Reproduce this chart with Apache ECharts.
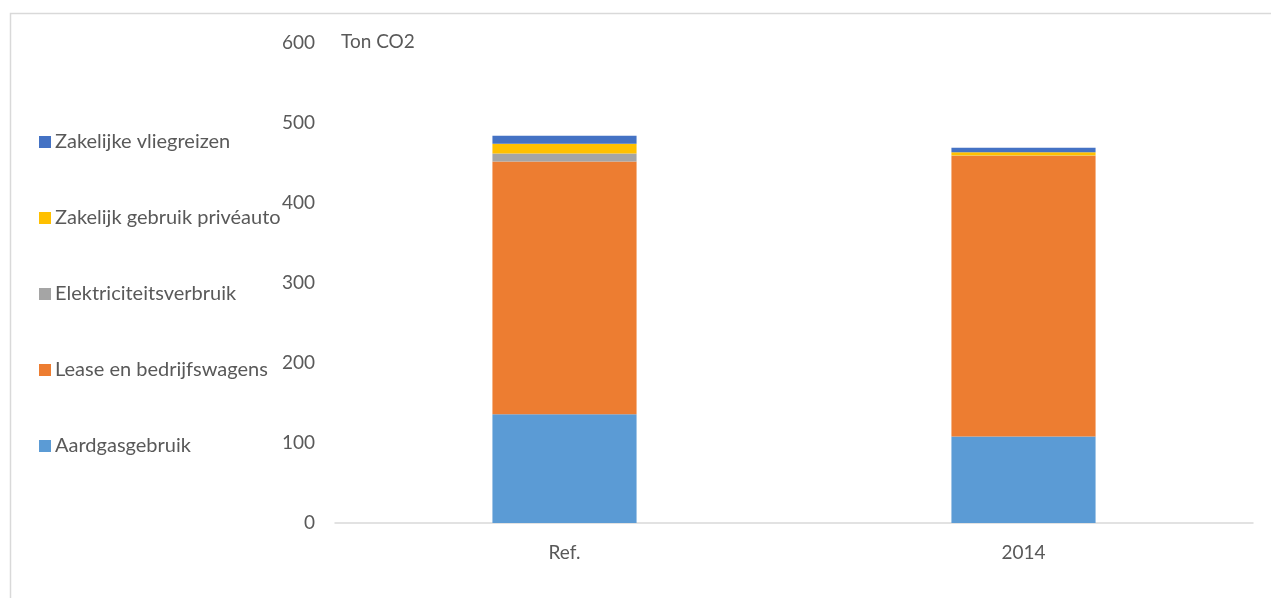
<!DOCTYPE html>
<html>
<head>
<meta charset="utf-8">
<script src="https://cdn.jsdelivr.net/npm/echarts@6/dist/echarts.min.js"></script>
<style>html,body{margin:0;padding:0;background:#fff;}#c{width:1271px;height:598px;}</style>
</head>
<body>
<div id="c"></div>
<script>
const categories = ['Ref.', '2014'];
const aardgasgebruik = [136, 108];
const leaseEnBedrijfswagens = [316, 351];
const elektriciteitsverbruik = [10, 0.5];
const zakelijkGebruikPriveauto = [12, 4];
const zakelijkeVliegreizen = [10, 5.5];
const yTicks = [0, 100, 200, 300, 400, 500, 600];

const FONT = 'Lato';
const chart = echarts.init(document.getElementById('c'), null, {renderer: 'canvas'});
const mk = (name, data, color) => ({
  name, type: 'bar', stack: 'total', data, barWidth: '31.4%',
  itemStyle: {color}, emphasis: {disabled: true}
});
chart.setOption({
  animation: false,
  textStyle: {fontFamily: FONT},
  graphic: [{
    type: 'rect', silent: true,
    shape: {x: 10.5, y: 13.5, width: 1300, height: 700},
    style: {fill: 'none', stroke: '#d9d9d9', lineWidth: 1.5}
  }],
  title: {
    text: 'Ton CO2', left: 336, top: 27,
    textStyle: {fontFamily: FONT, fontSize: 19, fontWeight: 'normal', color: '#595959'}
  },
  legend: {
    orient: 'vertical', left: 34, top: 126,
    data: ['Zakelijke vliegreizen', 'Zakelijk gebruik privéauto', 'Elektriciteitsverbruik', 'Lease en bedrijfswagens', 'Aardgasgebruik'],
    icon: 'rect', itemWidth: 12, itemHeight: 12, itemGap: 54,
    textStyle: {fontFamily: FONT, fontSize: 20, color: '#595959', lineHeight: 22, padding: [0, 0, 0, -1]},
    selectedMode: false
  },
  grid: {left: 335, right: 18, top: 43, bottom: 75, containLabel: false},
  xAxis: {
    type: 'category', data: categories,
    axisLine: {lineStyle: {color: '#d9d9d9', width: 1.5}},
    axisTick: {show: false},
    axisLabel: {color: '#595959', fontSize: 19, margin: 20, fontFamily: FONT}
  },
  yAxis: {
    type: 'value', min: yTicks[0], max: yTicks[yTicks.length - 1], interval: 100,
    axisLine: {show: false}, axisTick: {show: false}, splitLine: {show: false},
    axisLabel: {color: '#595959', fontSize: 19, margin: 20, fontFamily: FONT}
  },
  series: [
    mk('Aardgasgebruik', aardgasgebruik, '#5B9BD5'),
    mk('Lease en bedrijfswagens', leaseEnBedrijfswagens, '#ED7D31'),
    mk('Elektriciteitsverbruik', elektriciteitsverbruik, '#A5A5A5'),
    mk('Zakelijk gebruik privéauto', zakelijkGebruikPriveauto, '#FFC000'),
    mk('Zakelijke vliegreizen', zakelijkeVliegreizen, '#4472C4')
  ]
});
</script>
</body>
</html>
